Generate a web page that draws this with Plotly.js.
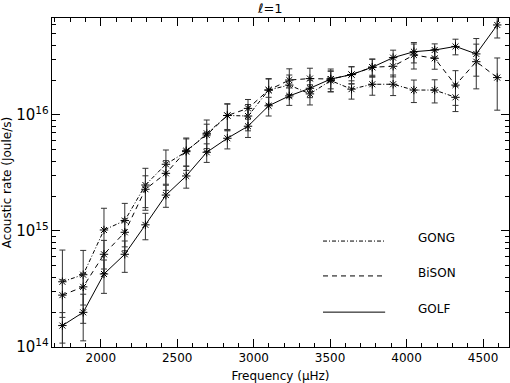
<!DOCTYPE html>
<html>
<head>
<meta charset="utf-8">
<script src="https://cdn.plot.ly/plotly-3.0.1.min.js"></script>
<style>
html,body{margin:0;padding:0;background:#fff}
#plot{width:510px;height:383px}
</style>
</head>
<body>
<div id="plot"></div>
<script>
// --- data (l=1 mode frequencies, microHz) ---
const freq = [1749,1885,2021,2157,2292,2426,2559,2693,2828,2963,3098,3233,3368,3504,3640,3776,3912,4048,4184,4320,4456,4593];

const golf    = [1.53e14,1.99e14,4.26e14,6.3e14,1.13e15,2.04e15,2.98e15,4.77e15,6.3e15,8.0e15,1.2e16,1.46e16,1.7e16,2.04e16,2.23e16,2.58e16,3.12e16,3.51e16,3.63e16,3.9e16,3.36e16,5.97e16];
const golfErr = [4.5e13,8.6e13,1.36e14,1.9e14,2.9e14,4.4e14,6.4e14,8.7e14,1.2e15,1.6e15,2.2e15,2.5e15,2.9e15,3.6e15,3.8e15,4.4e15,5.0e15,7.0e15,4.7e15,6.0e15,1.2e16,1.36e16];

const bison    = [2.8e14,3.3e14,6.3e14,9.75e14,2.29e15,3.14e15,4.92e15,6.73e15,9.9e15,1.14e16,1.64e16,2.0e16,2.06e16,2.04e16,2.23e16,2.58e16,2.63e16,3.29e16,3.08e16,1.81e16,2.88e16,2.1e16];
const bisonErr = [1.0e14,1.0e14,2.0e14,3.0e14,7.0e14,9.0e14,1.3e15,1.6e15,2.5e15,2.2e15,4.0e15,5.0e15,4.7e15,4.5e15,3.7e15,4.6e15,5.0e15,8.0e15,6.0e15,6.0e15,1.2e16,1.0e16];

const gongFreq = freq.slice(0,20);
const gong    = [3.65e14,4.2e14,1.02e15,1.23e15,2.49e15,3.76e15,4.83e15,6.95e15,9.9e15,9.8e15,1.64e16,1.81e16,1.52e16,1.98e16,1.67e16,1.84e16,1.84e16,1.64e16,1.64e16,1.42e16];
const gongErr = [3.2e14,2.6e14,5.5e14,5.0e14,9.8e14,1.23e15,1.5e15,2.1e15,2.6e15,2.5e15,4.2e15,4.0e15,3.0e15,4.0e15,3.0e15,3.6e15,3.7e15,3.6e15,3.7e15,3.5e15];

const legendNames = ['GONG','BiSON','GOLF'];
const legendDash  = ['4px,2px,1px,2px','5px,4px','solid'];

// --- traces ---
function series(x,y,err,dash){
  return {
    x:x, y:y, type:'scatter', mode:'lines+markers', showlegend:false,
    line:{color:'#000', width:1, dash:dash},
    marker:{symbol:'asterisk-open', size:7, color:'#000', line:{color:'#000', width:1}},
    error_y:{type:'data', array:err, visible:true, color:'#333', thickness:1, width:3}
  };
}

const traces = [
  series(gongFreq, gong, gongErr, legendDash[0]),
  series(freq, bison, bisonErr, legendDash[1]),
  series(freq, golf, golfErr, legendDash[2])
];

// legend drawn inside the plot, like the original
const legY = [0.322, 0.216, 0.106];
const shapes = legendNames.map((n,i)=>({
  type:'line', xref:'paper', yref:'paper', x0:0.593, x1:0.729, y0:legY[i], y1:legY[i],
  line:{color:'#000', width:1, dash:legendDash[i]}
}));
const annotations = legendNames.map((n,i)=>({
  text:n, xref:'paper', yref:'paper', x:0.797, y:legY[i]+0.01, xanchor:'left', yanchor:'middle',
  showarrow:false, font:{size:12, color:'#000'}
}));

const axisCommon = {
  showline:true, linecolor:'#000', linewidth:1, mirror:'ticks',
  ticks:'inside', tickcolor:'#000', ticklen:8, tickwidth:1,
  showgrid:false, zeroline:false, tickfont:{size:12, color:'#000'}
};

const layout = {
  width:510, height:383,
  margin:{l:52, r:1, t:18, b:36},
  paper_bgcolor:'#fff', plot_bgcolor:'#fff',
  font:{family:'DejaVu Sans, sans-serif', size:12, color:'#000'},
  title:{text:'ℓ=1', x:0.53, xanchor:'center', y:0.978, yanchor:'middle', font:{size:13, color:'#000'}},
  xaxis:Object.assign({}, axisCommon, {
    range:[1681,4670], dtick:500, tick0:0,
    minor:{dtick:100, ticks:'inside', ticklen:4, tickcolor:'#000', showgrid:false},
    title:{text:'Frequency (μHz)', standoff:7, font:{size:12, color:'#000'}}
  }),
  yaxis:Object.assign({}, axisCommon, {
    type:'log', range:[14,16.836], dtick:1, exponentformat:'power',
    minor:{dtick:'D1', ticks:'inside', ticklen:4, tickcolor:'#000', showgrid:false},
    title:{text:'Acoustic rate (Joule/s)', standoff:2, font:{size:12, color:'#000'}}
  }),
  shapes:shapes,
  annotations:annotations
};

Plotly.newPlot('plot', traces, layout, {displayModeBar:false, staticPlot:true});
</script>
</body>
</html>
